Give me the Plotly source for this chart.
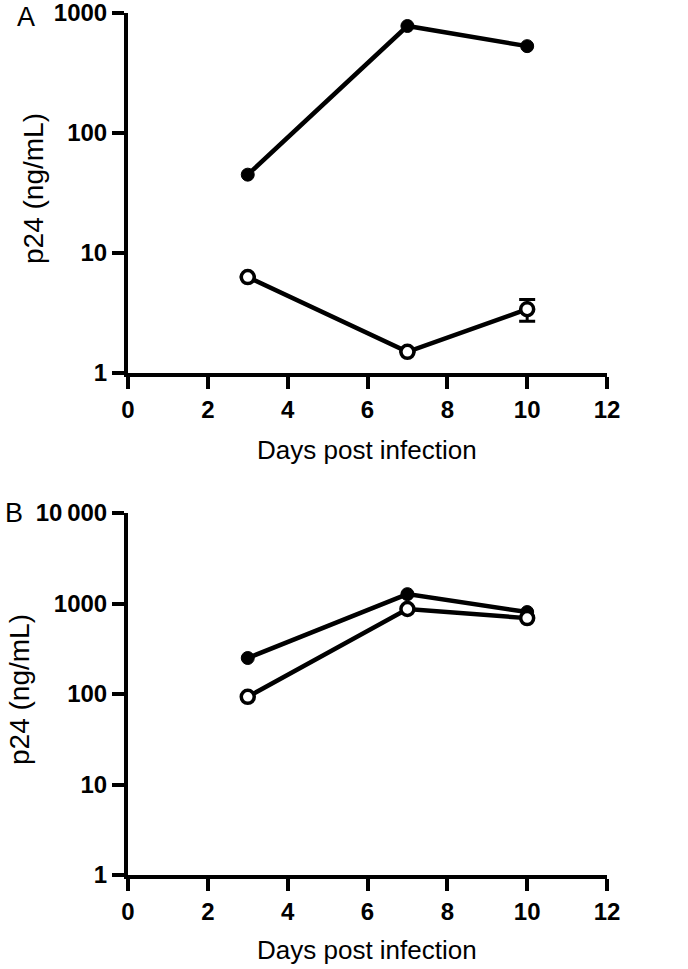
import plotly.graph_objects as go

days = [3, 7, 10]
a_filled = [45, 780, 530]
a_open = [6.3, 1.5, 3.4]
a_open_err = [0, 0, 0.7]
b_filled = [250, 1270, 805]
b_open = [93, 870, 690]

x_ticks = [0, 2, 4, 6, 8, 10, 12]
a_yticks = [1, 10, 100, 1000]
a_yticktext = ["1", "10", "100", "1000"]
b_yticks = [1, 10, 100, 1000, 10000]
b_yticktext = ["1", "10", "100", "1000", "10\u2009000"]

x_title = "Days post infection"
y_title = "p24 (ng/mL)"

W, H = 688, 969
L = 128
R = W - 607
T = 13
B = H - 875
pw = W - L - R
ph = H - T - B
a_bottom = (875 - 373) / ph
b_top = (875 - 513) / ph

def px_x(px):
    return (px - L) / pw

def px_y(py):
    return (H - B - py) / ph

fig = go.Figure()
line = dict(color="black", width=4.5)
filled_marker = dict(symbol="circle", size=13, color="black", line=dict(color="black", width=1))
open_marker = dict(symbol="circle", size=13, color="white", line=dict(color="black", width=3.5))

fig.add_trace(go.Scatter(x=days, y=a_filled, mode="lines+markers", line=line, marker=filled_marker,
                         xaxis="x", yaxis="y", showlegend=False))
fig.add_trace(go.Scatter(x=days, y=a_open, mode="lines+markers", line=line, marker=open_marker,
                         error_y=dict(type="data", array=a_open_err, color="black", thickness=3, width=8),
                         xaxis="x", yaxis="y", showlegend=False))
fig.add_trace(go.Scatter(x=days, y=b_filled, mode="lines+markers", line=line, marker=filled_marker,
                         xaxis="x2", yaxis="y2", showlegend=False))
fig.add_trace(go.Scatter(x=days, y=b_open, mode="lines+markers", line=line, marker=open_marker,
                         xaxis="x2", yaxis="y2", showlegend=False))

FAM = "Liberation Sans, Arial"
tickfont = dict(family=FAM, size=24, color="black", weight="bold")

def xaxis(anchor):
    return dict(range=[0, 12], tickvals=x_ticks, showline=True, linecolor="black", linewidth=4,
                ticks="outside", ticklen=12, tickwidth=4, tickcolor="black", showgrid=False,
                zeroline=False, tickfont=tickfont, anchor=anchor, automargin=False,
                ticklabeloverflow="allow")

def yaxis(anchor, dom, rng, vals, text):
    return dict(type="log", range=rng, tickvals=vals, ticktext=text, domain=dom, anchor=anchor,
                showline=True, linecolor="black", linewidth=4, ticks="outside", ticklen=12,
                tickwidth=4, tickcolor="black", showgrid=False, zeroline=False, tickfont=tickfont,
                automargin=False, ticklabeloverflow="allow")

def ann(text, x, y, size, angle=0):
    return dict(text=text, x=px_x(x), y=px_y(y), xref="paper", yref="paper", showarrow=False,
                textangle=angle, xanchor="center", yanchor="middle", borderpad=0,
                font=dict(family=FAM, size=size, color="black"))

fig.update_layout(
    width=W, height=H,
    margin=dict(l=L, r=R, t=T, b=B, autoexpand=False),
    paper_bgcolor="white", plot_bgcolor="white",
    xaxis=xaxis("y"),
    yaxis=yaxis("x", [a_bottom, 1], [0, 3.0005], a_yticks, a_yticktext),
    xaxis2=xaxis("y2"),
    yaxis2=yaxis("x2", [0, b_top], [0, 4.0005], b_yticks, b_yticktext),
    annotations=[
        ann("A", 26, 17, 27),
        ann("B", 14, 513, 27),
        ann(x_title, 367, 450, 26),
        ann(x_title, 367, 950, 26),
        ann(y_title, 33, 189, 28, -90),
        ann(y_title, 19, 690, 28, -90),
    ],
)
fig.write_html("out.html", config={"displayModeBar": False},
               post_script="document.body.style.margin='0';document.body.style.overflow='hidden';")
